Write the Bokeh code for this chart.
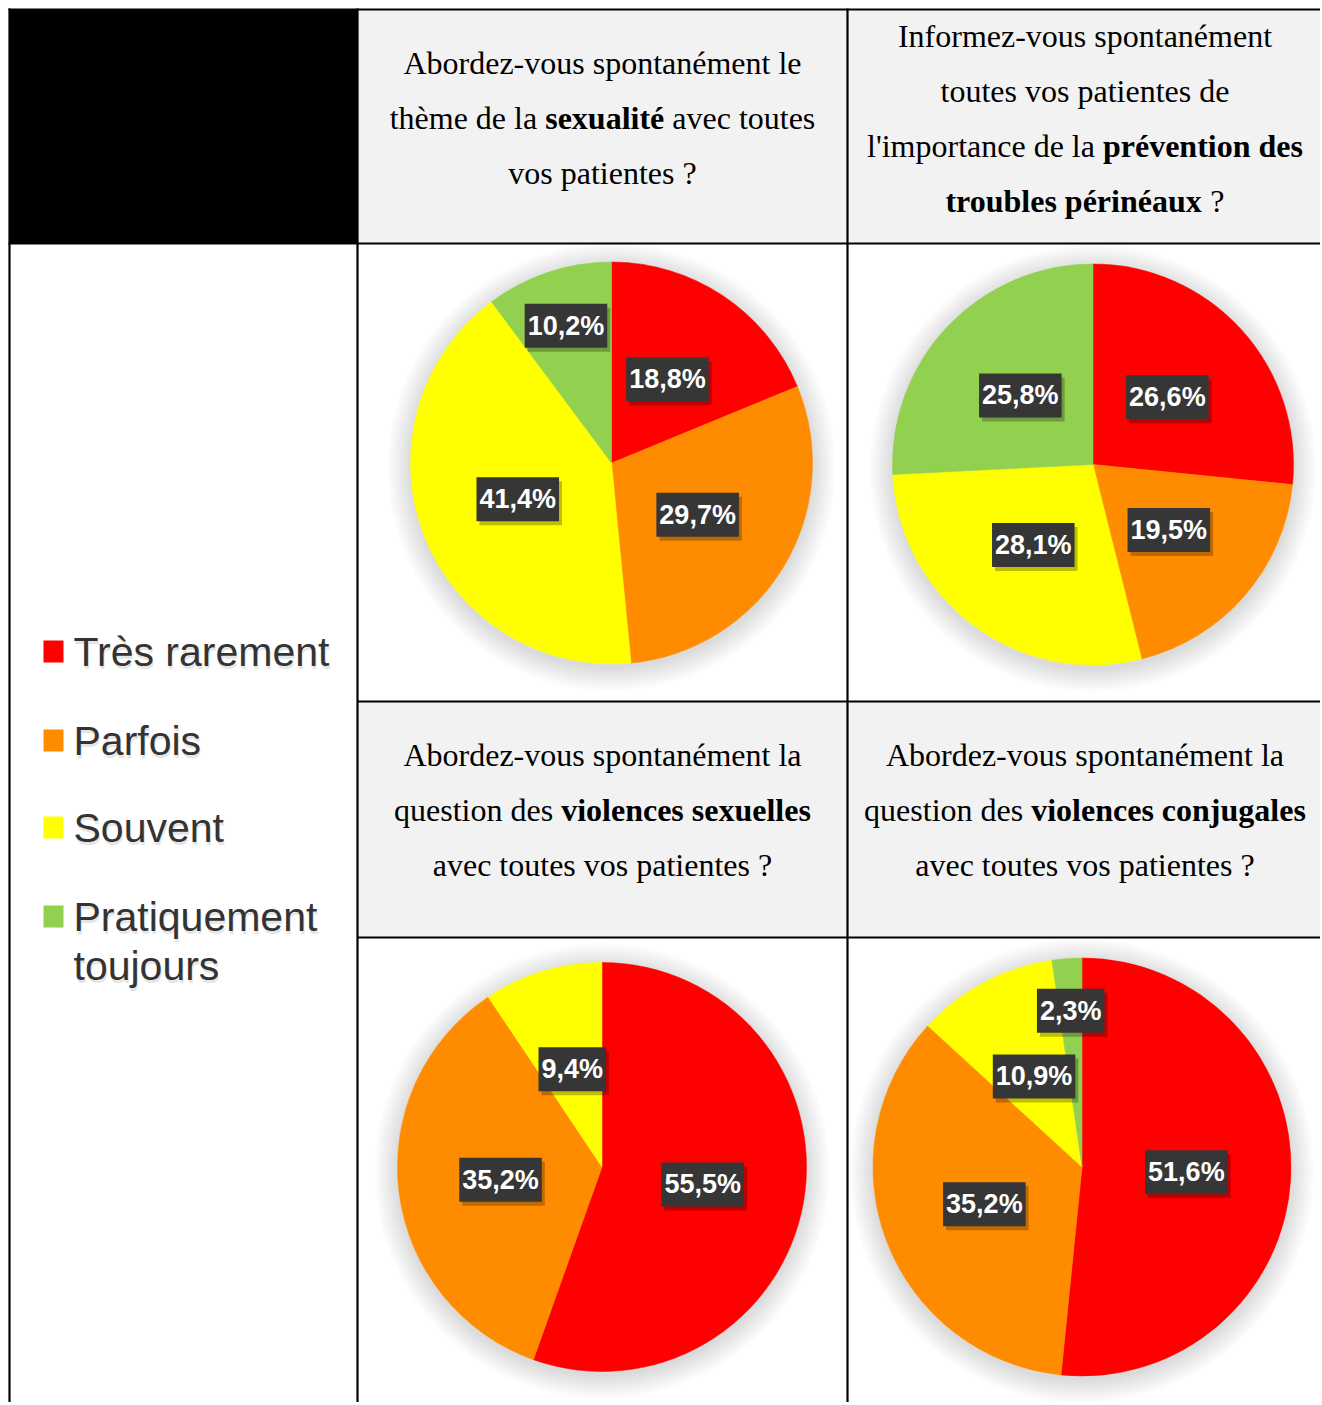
import math
from bokeh.plotting import figure
from bokeh.models import Range1d, ColumnDataSource
from bokeh.core.properties import value
from bokeh.embed import file_html
from bokeh.resources import INLINE

# ---------------- data ----------------
categories = ["Très rarement", "Parfois", "Souvent", "Pratiquement toujours"]
legend_lines = [["Très rarement"], ["Parfois"], ["Souvent"], ["Pratiquement", "toujours"]]
colors = ["#ff0000", "#ff8c00", "#ffff00", "#92d050"]

q_sexualite = [18.8, 29.7, 41.4, 10.2]
q_perinee = [26.6, 19.5, 28.1, 25.8]
q_viol_sex = [55.5, 35.2, 9.4, 0.0]
q_viol_conj = [51.6, 35.2, 10.9, 2.3]

# header texts: list of lines, each line a list of (segment, bold)
h_sexualite = [[("Abordez-vous spontanément le", False)],
               [("thème de la ", False), ("sexualité", True), (" avec toutes", False)],
               [("vos patientes ?", False)]]
h_perinee = [[("Informez-vous spontanément", False)],
             [("toutes vos patientes de", False)],
             [("l'importance de la ", False), ("prévention des", True)],
             [("troubles périnéaux", True), (" ?", False)]]
h_viol_sex = [[("Abordez-vous spontanément la", False)],
              [("question des ", False), ("violences sexuelles", True)],
              [("avec toutes vos patientes ?", False)]]
h_viol_conj = [[("Abordez-vous spontanément la", False)],
               [("question des ", False), ("violences conjugales", True)],
               [("avec toutes vos patientes ?", False)]]

# ---------------- layout ----------------
W, H = 1320, 1402
def Y(py):
    return H - py

p = figure(width=W, height=H, x_range=Range1d(0, W), y_range=Range1d(0, H),
           output_backend="svg", toolbar_location=None, min_border=0)
p.axis.visible = False
p.grid.visible = False
p.outline_line_color = None
p.background_fill_color = "white"
p.border_fill_color = "white"

# table cells
p.quad(left=[9], right=[357], top=[Y(9)], bottom=[Y(243)], fill_color="black", line_color=None)
p.quad(left=[357, 357], right=[1330, 1330], top=[Y(9), Y(701)], bottom=[Y(243), Y(937)],
       fill_color="#f2f2f2", line_color=None)

# table lines
lw = 2.2
p.segment(x0=[8, 9, 357, 847, 8, 357, 357], y0=[Y(9), Y(8), Y(8), Y(8), Y(243), Y(701), Y(937)],
          x1=[1330, 9, 357, 847, 1330, 1330, 1330], y1=[Y(9), Y(1420), Y(1420), Y(1420), Y(243), Y(701), Y(937)],
          line_color="black", line_width=lw)

# ---------------- header texts ----------------
REG = {'A': 722, 'I': 333, 'a': 444, 'b': 500, 'c': 444, 'd': 500, 'e': 444, 'é': 444, 'è': 444,
       'f': 333, 'g': 500, 'h': 500, 'i': 278, 'j': 278, 'l': 278, 'm': 778, 'n': 500, 'o': 500,
       'p': 500, 'q': 500, 'r': 333, 's': 389, 't': 278, 'u': 500, 'v': 500, 'x': 500, 'z': 444,
       ' ': 250, '-': 333, '?': 444, "'": 180}
BOLD = {'a': 500, 'b': 556, 'c': 444, 'd': 556, 'e': 444, 'é': 444, 'g': 500, 'i': 278, 'j': 333,
        'l': 278, 'n': 556, 'o': 500, 'p': 556, 'r': 444, 's': 389, 't': 333, 'u': 556, 'v': 500,
        'x': 500, ' ': 250}
HFS = 32

def seg_width(s, bold):
    tab = BOLD if bold else REG
    return sum(tab.get(ch, 500) for ch in s) / 1000.0 * HFS

def draw_header(cx, lines, first_baseline, spacing=55):
    xs, ys, ts, bs = [], [], [], []
    for i, line in enumerate(lines):
        total = sum(seg_width(s, b) for s, b in line)
        x = cx - total / 2.0
        for s, b in line:
            lead = len(s) - len(s.lstrip(" "))
            xs.append(x + seg_width(" " * lead, b))
            ys.append(Y(first_baseline + i * spacing))
            ts.append(s.strip(" "))
            bs.append("bold" if b else "normal")
            x += seg_width(s, b)
    src = ColumnDataSource(dict(x=xs, y=ys, t=ts, st=bs))
    p.text(x="x", y="y", text="t", source=src, text_font=value("Liberation Serif"),
           text_font_size=f"{HFS}px", text_font_style="st", text_color="black",
           text_align="left", text_baseline="alphabetic")

draw_header(602, h_sexualite, 62)
draw_header(1084.5, h_perinee, 35)
draw_header(602, h_viol_sex, 754)
draw_header(1084.5, h_viol_conj, 754)

# ---------------- legend ----------------
leg_baselines = [667, 756, 843, 932]
p.quad(left=[43] * 4, right=[63] * 4, top=[Y(b - 27) for b in leg_baselines],
       bottom=[Y(b - 5) for b in leg_baselines], fill_color=colors, line_color=None)
lx, ly, lt = [], [], []
for b, lines in zip(leg_baselines, legend_lines):
    for j, t in enumerate(lines):
        lx.append(73); ly.append(Y(b - 16 + j * 49)); lt.append(t)
# faint shadow under legend text
p.text(x=[x + 1 for x in lx], y=[y - 3 for y in ly], text=lt, text_font=value("Liberation Sans"),
       text_font_size="41px", text_color="#999999", text_alpha=0.25, text_align="left",
       text_baseline="alphabetic")
p.text(x=lx, y=ly, text=lt, text_font=value("Liberation Sans"), text_font_size="41px",
       text_color="#333333", text_align="left", text_baseline="alphabetic")

# ---------------- pies ----------------
pies = [
    (q_sexualite, 611, 462.5, 201, [0.5, 0.5, 0.5, 0.72]),
    (q_perinee, 1092.5, 464, 200.5, [0.5, 0.5, 0.5, 0.5]),
    (q_viol_sex, 601.5, 1166.5, 204.5, [0.5, 0.5, 0.5, 0.5]),
    (q_viol_conj, 1081.5, 1166.5, 209, [0.5, 0.5, 0.49, 0.75]),
]
LBL_FONT = value("'Liberation Sans Narrow', 'Arial Narrow', 'Liberation Sans', sans-serif")

for vals, cx, cy, r, lab_f in pies:
    # soft glow shadow
    for k in range(12):
        p.circle(x=[cx], y=[Y(cy) - 4], radius=r + 1 + 2 * k, fill_color="black",
                 fill_alpha=0.012, line_color=None)
    total = sum(vals)
    starts, ends, cols, lxs, lys, ltx = [], [], [], [], [], []
    cum = 0.0
    for v, c, f in zip(vals, colors, lab_f):
        if v <= 0:
            continue
        a0 = math.pi / 2 - 2 * math.pi * cum / total
        a1 = math.pi / 2 - 2 * math.pi * (cum + v) / total
        mid = (a0 + a1) / 2
        starts.append(a0); ends.append(a1); cols.append(c)
        lxs.append(cx + f * r * math.cos(mid)); lys.append(Y(cy) + f * r * math.sin(mid))
        ltx.append(f"{v:.1f}".replace(".", ",") + "%")
        cum += v
    src = ColumnDataSource(dict(s=starts, e=ends, c=cols))
    p.wedge(x=cx, y=Y(cy), radius=r, start_angle="s", end_angle="e", direction="clock",
            fill_color="c", line_color="c", line_width=0.5, source=src)
    lsrc = ColumnDataSource(dict(x=lxs, y=lys, t=ltx, xs=[x + 3 for x in lxs], ys=[y - 4 for y in lys]))
    # label box shadow
    p.text(x="xs", y="ys", text="t", source=lsrc, text_font=LBL_FONT, text_font_style="bold",
           text_font_size="27px", text_alpha=0, text_align="center", text_baseline="middle",
           background_fill_color="black", background_fill_alpha=0.25, padding=(3, 7))
    p.text(x="x", y="y", text="t", source=lsrc, text_font=LBL_FONT, text_font_style="bold",
           text_font_size="27px", text_color="white", text_align="center", text_baseline="middle",
           background_fill_color="#363636", background_fill_alpha=1.0, padding=(3, 7))

open("out.html", "w").write(file_html(p, INLINE))
